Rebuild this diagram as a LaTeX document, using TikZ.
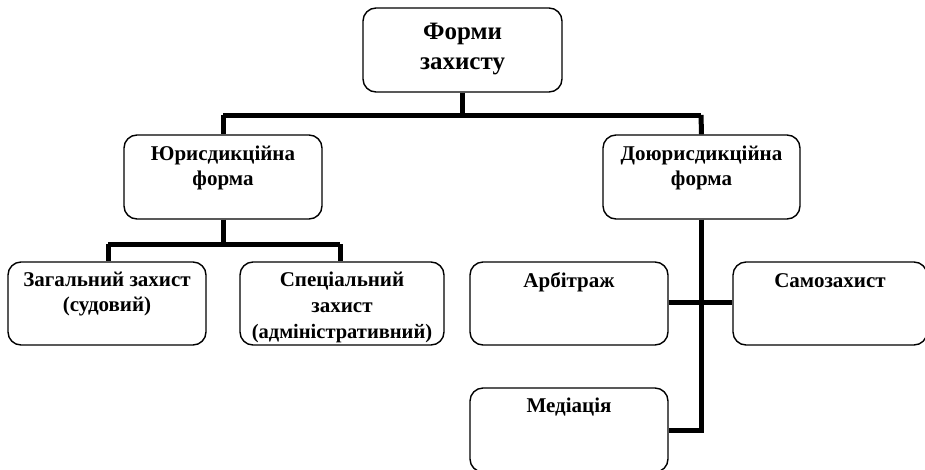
\documentclass[tikz,border=0pt]{standalone}
\usepackage{fontspec}
\setmainfont{Liberation Serif}
\begin{document}
\begin{tikzpicture}[x=1pt,y=-1pt,
  box/.style={draw, line width=1.4pt, rounded corners=13pt, minimum width=#1, minimum height=84pt, inner sep=0pt},
  box/.default=198pt,
  txt/.style={anchor=north, align=center, font=\bfseries\fontsize{21}{25}\selectfont, inner sep=0pt},
  conn/.style={line width=5pt}]
\useasboundingbox (0,0) rectangle (925,469);
% boxes
\node[box=199pt] (top) at (462.5,50) {};
\node[box] (jur) at (223,177) {};
\node[box=197pt] (dojur) at (701.5,177) {};
\node[box, minimum height=83pt] (zag) at (107,303.5) {};
\node[box=204pt, minimum height=83pt] (spec) at (342,303.5) {};
\node[box, minimum height=83pt] (arb) at (569,303.5) {};
\node[box=194pt, minimum height=83pt] (samo) at (830,303.5) {};
\node[box] (med) at (569,430) {};
% texts
\node[txt, font=\bfseries\fontsize{25}{30}\selectfont] (ttop) at ([yshift=-16pt]top.north) {Форми\\захисту};
\node[txt] (tjur) at ([yshift=-11pt]jur.north) {Юрисдикційна\\форма};
\node[txt] (tdojur) at ([yshift=-11pt]dojur.north) {Доюрисдикційна\\форма};
\node[txt] (tzag) at ([yshift=-11pt]zag.north) {Загальний захист\\(судовий)};
\node[txt, font=\bfseries\fontsize{21}{26}\selectfont] (tspec) at ([yshift=-10pt]spec.north) {Спеціальний\\захист\\{\fontsize{20.5}{23}\selectfont(адміністративний)}};
\node[txt] (tarb) at ([yshift=-11pt]arb.north) {Арбітраж};
\node[txt] (tsamo) at ([yshift=-12pt]samo.north) {Самозахист};
\node[txt] (tmed) at ([yshift=-10pt]med.north) {Медіація};
% connectors
\coordinate (h1) at (462.5,115);
\coordinate (h1l) at (223,115);
\coordinate (h1r) at (701,115);
\draw[conn] (top.south) -- (h1);
\draw[conn] (h1l) -- (h1r);
\draw[conn] (h1l) -- (jur.north);
\draw[conn] (h1r) -- (dojur.north);
\coordinate (h2) at (223,244);
\coordinate (h2l) at (108,244);
\coordinate (h2r) at (340,244);
\draw[conn] (jur.south) -- (h2);
\draw[conn] (h2l) -- (h2r);
\draw[conn] (h2l) -- (h2l |- zag.north);
\draw[conn] (h2r) -- (h2r |- spec.north);
\coordinate (v3) at (701,302);
\coordinate (v3b) at (701,430);
\draw[conn] (dojur.south -| v3) -- (v3b) -- (med.east |- v3b);
\draw[conn] (arb.east |- v3) -- (samo.west |- v3);
\end{tikzpicture}
\end{document}
